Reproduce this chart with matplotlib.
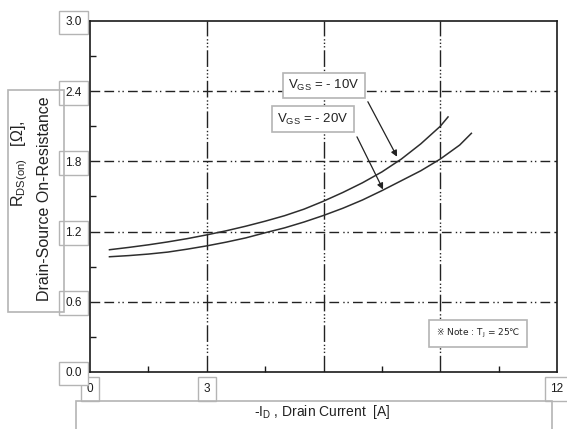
import matplotlib
matplotlib.use('agg')
import matplotlib.pyplot as plt
from matplotlib.patches import Rectangle

plt.rcParams['font.family'] = ['Liberation Sans', 'DejaVu Sans']
plt.rcParams['mathtext.fontset'] = 'custom'
plt.rcParams['mathtext.rm'] = 'Liberation Sans'
plt.rcParams['mathtext.it'] = 'Liberation Sans'

# On-resistance vs drain current, Tj = 25 C
id_10v = [0.5, 1.0, 1.5, 2.0, 2.5, 3.0, 3.5, 4.0, 4.5, 5.0,
          5.5, 6.0, 6.5, 7.0, 7.5, 8.0, 8.5, 9.0, 9.2]
rds_10v = [1.045, 1.065, 1.087, 1.112, 1.140, 1.172, 1.207, 1.246, 1.289,
           1.336, 1.392, 1.460, 1.535, 1.617, 1.710, 1.820, 1.950, 2.100,
           2.180]
id_20v = [0.5, 1.0, 1.5, 2.0, 2.5, 3.0, 3.5, 4.0, 4.5, 5.0,
          5.5, 6.0, 6.5, 7.0, 7.5, 8.0, 8.5, 9.0, 9.5, 9.8]
rds_20v = [0.985, 0.995, 1.008, 1.025, 1.050, 1.078, 1.110, 1.146, 1.190,
           1.232, 1.282, 1.338, 1.400, 1.470, 1.550, 1.635, 1.720, 1.820,
           1.940, 2.040]

x_ticks = [0, 3, 6, 9, 12]
x_ticklabels = ['0', '3', '', '', '12']
y_ticks = [0.0, 0.6, 1.2, 1.8, 2.4, 3.0]
y_ticklabels = ['0.0', '0.6', '1.2', '1.8', '2.4', '3.0']

W, H = 567, 429
fig = plt.figure(figsize=(W / 100, H / 100), dpi=100, facecolor='w')
ax = fig.add_axes([90 / W, 1 - 372 / H, 467 / W, 351 / H])

ink = '#222222'
box_ec = '#b4b4b4'

ax.plot(id_10v, rds_10v, color='#2e2e2e', lw=1.1, zorder=4)
ax.plot(id_20v, rds_20v, color='#2e2e2e', lw=1.1, zorder=4)

ax.set_xlim(0, 12)
ax.set_ylim(0, 3)

# dashed grid, vertical lines use a dash-dot-dot pattern
for xv in [3, 6, 9]:
    ax.axvline(xv, color=ink, lw=1.0, zorder=1,
               ls=(0, (12, 2, 1, 1.5, 1, 1.5, 1, 2)))
for yv in [0.6, 1.2, 1.8, 2.4]:
    ax.axhline(yv, color=ink, lw=1.0, zorder=1,
               ls=(0, (7, 3, 7, 3, 1, 2, 1, 3)))

for s in ax.spines.values():
    s.set_linewidth(1.2)
    s.set_color('#1a1a1a')

ax.set_xticks(x_ticks)
ax.set_xticklabels(x_ticklabels)
ax.set_yticks(y_ticks)
ax.set_yticklabels(y_ticklabels)
ax.set_xticks([1.5, 4.5, 7.5, 10.5], minor=True)
ax.set_yticks([0.3, 0.9, 1.5, 2.1, 2.7], minor=True)
ax.tick_params(which='major', length=0, labelsize=8.5, labelcolor='#1a1a1a')
ax.tick_params(axis='y', which='major', pad=6)
ax.tick_params(axis='x', which='major', pad=8)
ax.tick_params(which='minor', direction='in', length=4, width=1.0,
               color='#1a1a1a')

tick_box = dict(boxstyle='square,pad=0.5', fc='white', ec=box_ec, lw=1.0)
for t in ax.get_xticklabels() + ax.get_yticklabels():
    if t.get_text():
        t.set_bbox(tick_box)

# curve labels with arrows
lbl_box = dict(boxstyle='square,pad=0.4', fc='white', ec=box_ec, lw=1.2)
ax.text(6.01, 2.45, r'V$_\mathregular{GS}$ = - 10V', fontsize=9.5,
        ha='center', va='center', color=ink, bbox=lbl_box, zorder=5)
ax.text(5.73, 2.16, r'V$_\mathregular{GS}$ = - 20V', fontsize=9.5,
        ha='center', va='center', color=ink, bbox=lbl_box, zorder=5)
arrow = dict(arrowstyle='-|>', color=ink, lw=0.9, mutation_scale=9,
             shrinkA=0, shrinkB=0)
ax.annotate('', xy=(7.89, 1.84), xytext=(7.14, 2.31), arrowprops=arrow)
ax.annotate('', xy=(7.53, 1.56), xytext=(6.86, 2.01), arrowprops=arrow)

# plain parts of this string go through DejaVu, which has ※ and ℃
note_box = dict(boxstyle='square,pad=0.8', fc='white', ec=box_ec, lw=1.2)
ax.text(9.97, 0.33, '※ Note : T$_\\mathregular{J}$ = 25℃', fontsize=6.5,
        family='DejaVu Sans', ha='center', va='center', color=ink,
        bbox=note_box, zorder=5)

# axis titles inside open boxes
fig.text(20 / W, 1 - 164 / H, r'R$_\mathregular{DS(on)}$   [Ω],',
         rotation=90, ha='center', va='center', fontsize=11.5, color=ink)
fig.text(45 / W, 1 - 199 / H, 'Drain-Source On-Resistance',
         rotation=90, ha='center', va='center', fontsize=11.5, color=ink)
fig.patches.append(Rectangle((8 / W, 1 - 312 / H), 56 / W, 222 / H,
                             transform=fig.transFigure, fill=False,
                             ec=box_ec, lw=1.2))

fig.text(322 / W, 1 - 412 / H, r'-I$_\mathregular{D}$ , Drain Current  [A]',
         ha='center', va='center', fontsize=10, color=ink)
fig.patches.append(Rectangle((76 / W, -0.05), 476 / W, 0.05 + 28 / H,
                             transform=fig.transFigure, fill=False,
                             ec=box_ec, lw=1.2))

fig.savefig('out.png', dpi=100, facecolor='w')
